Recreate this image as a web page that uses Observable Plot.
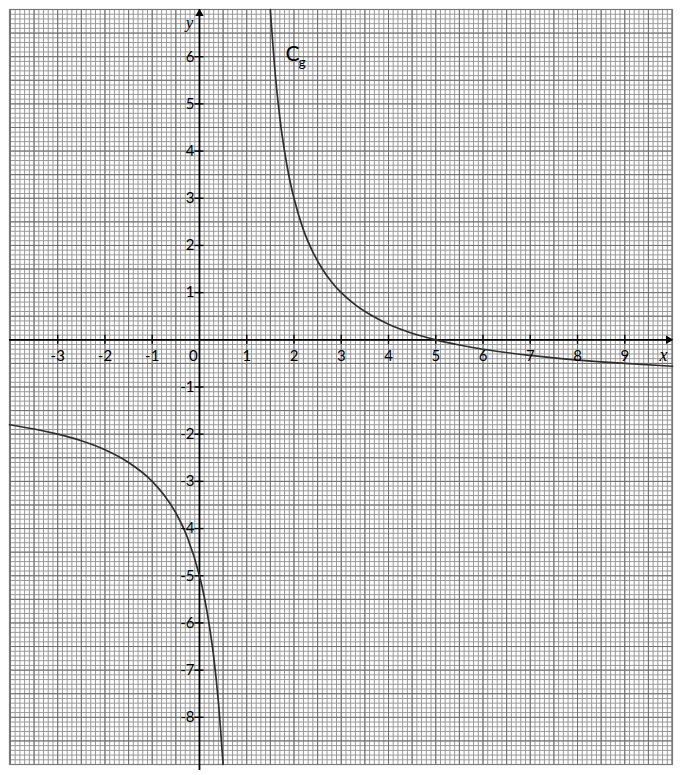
<!DOCTYPE html>
<html>
<head>
<meta charset="utf-8">
<script src="https://cdn.jsdelivr.net/npm/d3@7"></script>
<script src="https://cdn.jsdelivr.net/npm/@observablehq/plot@0.6"></script>
<style>
  html, body { margin: 0; padding: 0; background: #fff; }
  #chart svg { display: block; }
</style>
</head>
<body>
<div id="chart"></div>
<script>
// Values
const xDomain = [-4.02, 10.01];
const yDomain = [-9, 7];

const xTickValues = [-3, -2, -1, 1, 2, 3, 4, 5, 6, 7, 8, 9];
const xTickLabels = ["-3", "-2", "-1", "1", "2", "3", "4", "5", "6", "7", "8", "9"];
const originLabel = "0";
const yTickValues = [-8, -7, -6, -5, -4, -3, -2, -1, 1, 2, 3, 4, 5, 6];
const yTickLabels = ["-8", "-7", "-6", "-5", "-4", "-3", "-2", "-1", "1", "2", "3", "4", "5", "6"];

// Right branch of C_g
const rightX = [1.5, 1.6, 1.7, 1.8, 1.9, 2, 2.2, 2.4, 2.6, 2.8, 3, 3.3, 3.6, 4, 4.5, 5, 5.5, 6, 7, 8, 9, 10.01];
const rightY = [7, 5.67, 4.71, 4, 3.44, 3, 2.33, 1.86, 1.5, 1.22, 1, 0.74, 0.54, 0.33, 0.14, 0, -0.11, -0.2, -0.33, -0.43, -0.5, -0.56];
// Left branch of C_g
const leftX = [-4.02, -3.5, -3, -2.5, -2, -1.5, -1, -0.75, -0.5, -0.25, 0, 0.1, 0.2, 0.3, 0.4, 0.5];
const leftY = [-1.8, -1.89, -2, -2.14, -2.33, -2.6, -3, -3.29, -3.67, -4.2, -5, -5.44, -6, -6.71, -7.67, -9];

const curveName = "C";
const curveSub = "g";
const curveLabelAt = {x: 1.82, y: 5.91};

const curve = [
  ...rightX.map((x, i) => ({x, y: rightY[i], branch: "right"})),
  ...leftX.map((x, i) => ({x, y: leftY[i], branch: "left"}))
];

const minorX = d3.range(-40, 101).map(i => i / 10);
const minorY = d3.range(-90, 71).map(i => i / 10);
const halfX = d3.range(-8, 21).map(i => i / 2);
const halfY = d3.range(-18, 15).map(i => i / 2);

const chart = Plot.plot({
  width: 682,
  height: 775,
  marginLeft: 9,
  marginRight: 10,
  marginTop: 9,
  marginBottom: 11,
  x: {type: "linear", domain: xDomain, axis: null},
  y: {type: "linear", domain: yDomain, axis: null},
  style: {background: "#fff", fontFamily: "Lato, sans-serif"},
  marks: [
    Plot.ruleX(minorX, {stroke: "#999", strokeWidth: 1}),
    Plot.ruleY(minorY, {stroke: "#999", strokeWidth: 1}),
    Plot.ruleX(halfX, {stroke: "#707070", strokeWidth: 1}),
    Plot.ruleY(halfY, {stroke: "#707070", strokeWidth: 1}),
    Plot.frame({stroke: "#7a7a7a", strokeWidth: 1.2}),
    // axes
    Plot.ruleY([0], {x1: xDomain[0], x2: xDomain[1], insetRight: 6, stroke: "#000", strokeWidth: 1.8}),
    Plot.ruleX([0], {y1: yDomain[0], y2: yDomain[1], insetTop: 6, stroke: "#000", strokeWidth: 1.8}),
    Plot.dot([0], {x: xDomain[1], y: 0, symbol: "triangle2", r: 4, rotate: 90, fill: "#000", dx: -4}),
    Plot.dot([0], {x: 0, y: yDomain[1], symbol: "triangle2", r: 4, fill: "#000", dy: 4}),
    // ticks
    Plot.ruleX(xTickValues, {y1: 0, y2: 0, insetTop: -4.5, insetBottom: -4.5, stroke: "#000", strokeWidth: 1.4}),
    Plot.ruleY(yTickValues, {x1: 0, x2: 0, insetLeft: -4.5, insetRight: -4.5, stroke: "#000", strokeWidth: 1.4}),
    // curve
    Plot.line(curve, {x: "x", y: "y", z: "branch", curve: "monotone-x", stroke: "#2e2e2e", strokeWidth: 1.7}),
    // tick labels
    Plot.text(xTickValues, {x: d => d, y: 0, text: (d, i) => xTickLabels[i], dy: 16,
      fontSize: 15, fill: "#000"}),
    Plot.text([originLabel], {x: 0, y: 0, dx: -6, dy: 16, fontSize: 15, fill: "#000"}),
    Plot.text(yTickValues, {x: 0, y: d => d, text: (d, i) => yTickLabels[i], dx: -5, textAnchor: "end",
      fontSize: 15, fill: "#000"}),
    // axis names
    Plot.text(["y"], {x: 0, y: yDomain[1], dx: -10, dy: 13, fontSize: 17, fontStyle: "italic",
      fontFamily: "Liberation Serif, serif", fill: "#000"}),
    Plot.text(["x"], {x: xDomain[1], y: 0, dx: -9, dy: 15, fontSize: 18, fontStyle: "italic",
      fontFamily: "Liberation Serif, serif", fill: "#000"}),
    // curve label
    Plot.text([curveName], {x: curveLabelAt.x, y: curveLabelAt.y, textAnchor: "start", lineAnchor: "bottom",
      fontSize: 21, fill: "#000"}),
    Plot.text([curveSub], {x: curveLabelAt.x, y: curveLabelAt.y, textAnchor: "start", lineAnchor: "bottom",
      dx: 13, dy: 6, fontSize: 14, fill: "#000"})
  ]
});
document.getElementById("chart").appendChild(chart);
</script>
</body>
</html>
